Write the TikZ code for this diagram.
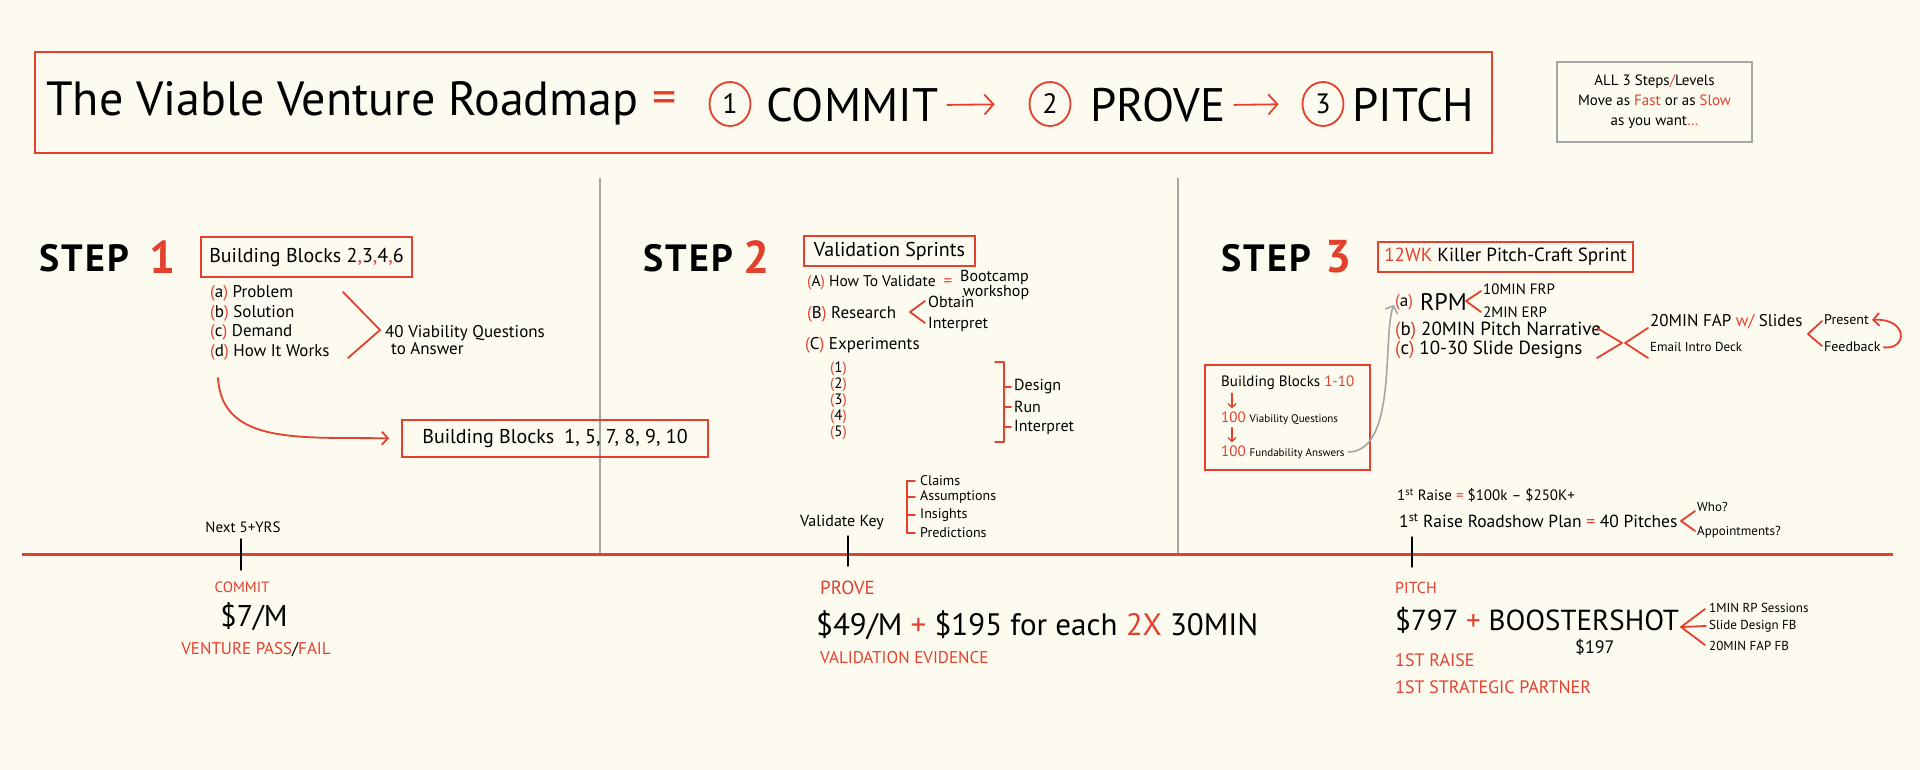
\documentclass[tikz,border=0pt]{standalone}
\usepackage{fontspec}
\setmainfont{PT Sans}
\usetikzlibrary{arrows.meta,shapes.geometric}
\definecolor{bg}{RGB}{253,251,239}
\definecolor{rd}{RGB}{228,64,46}
\definecolor{gr}{RGB}{165,165,165}
\newcommand{\fs}[1]{\fontsize{#1pt}{#1pt}\selectfont}
\newcommand{\fsl}[2]{\fontsize{#1pt}{#2pt}\selectfont}
\newcommand{\rp}[1]{\textcolor{rd}{(}#1\textcolor{rd}{)}}
\newcommand{\rd}[1]{\textcolor{rd}{#1}}
\begin{document}
\begin{tikzpicture}[x=1pt,y=-1pt,
 tx/.style={inner sep=0pt,anchor=west},
 ct/.style={inner sep=0pt},
 redbox/.style={draw=rd,line width=1.8pt,inner sep=0pt},
 stroke/.style={draw=rd,line width=1.8pt,line cap=round,line join=round},
 ink/.style={draw=black,line width=1.5pt,line cap=round},
 sep/.style={draw=gr,line width=2pt},
 barb/.style={-{Straight Barb[length=6pt,width=13pt]}},
 bigbarb/.style={-{Straight Barb[length=9pt,width=20pt]}},
 numc/.style={draw=rd,line width=1.8pt,ellipse,minimum width=41pt,minimum height=44pt,inner sep=0pt,font=\fs{28}},
 steplbl/.style={tx,font=\fs{38}\bfseries\addfontfeatures{LetterSpace=6}},
 stepnum/.style={tx,text=rd,font=\fs{46}\bfseries},
]
\fill[bg] (0,0) rectangle (1920,770);
\useasboundingbox (0,0) rectangle (1920,770);

% ---------- title ----------
\node[redbox,minimum width=1457pt,minimum height=101pt,anchor=north west] (titlebox) at (34,51) {};
\node[tx,font=\fs{48}] (ttl) at (46,103) {The Viable Venture Roadmap};
\node[ct,font=\fs{48},text=rd] (eq) at (665,103) {=};
\node[numc] (c1) at (730,104) {1};
\node[tx,font=\fs{47}] (commit) at (766,105) {COMMIT};
\node[numc] (c2) at (1050,104) {2};
\node[tx,font=\fs{47}] (prove) at (1090,105) {PROVE};
\node[numc] (c3) at (1323,104) {3};
\node[tx,font=\fs{47}] (pitch) at (1352,105) {PITCH};
\draw[stroke,bigbarb,shorten <=9pt,shorten >=34pt] (commit.east) -- (c2.west);
\draw[stroke,bigbarb,shorten <=9pt,shorten >=23pt] (prove.east) -- (c3.west);

\node[draw=gr,line width=1.5pt,minimum width=195pt,minimum height=80pt,align=center,font=\fsl{15}{20},inner sep=0pt] (note) at (1654.5,102)
 {ALL 3 Steps\rd{/}Levels\\Move as \rd{Fast} or as \rd{Slow}\\as you want\rd{\ldots}};

% ---------- separators and timeline ----------
\coordinate (s1a) at (600,178); \coordinate (s1b) at (600,553);
\coordinate (s2a) at (1178,178); \coordinate (s2b) at (1178,553);
\draw[sep] (s1a) -- (s1b);
\draw[sep] (s2a) -- (s2b);
\coordinate (tl0) at (22,554); \coordinate (tl1) at (1893,554);
\draw[draw=rd,line width=3pt] (tl0) -- (tl1);
\draw[ink] (241,539) -- (241,570);
\draw[ink] (848,536) -- (848,566);
\draw[ink] (1412,537) -- (1412,567);

% ---------- step 1 ----------
\node[steplbl] (step1) at (39,258) {STEP};
\node[stepnum] (n1) at (149,257) {1};
\node[redbox,minimum width=211pt,minimum height=40pt,font=\fs{20}] (bb1) at (306.5,257) {Building Blocks 2\rd{,}3\rd{,}4\rd{,}6};
\node[tx,font=\fs{17}] (la) at (210,293) {\rp{a} Problem};
\node[tx,font=\fs{17}] (lb) at (210,313) {\rp{b} Solution};
\node[tx,font=\fs{17}] (lc) at (210,332) {\rp{c} Demand};
\node[tx,font=\fs{17}] (ld) at (210,352) {\rp{d} How It Works};
\draw[stroke] (343,292) -- (380,330) -- (348,358);
\node[tx,font=\fsl{17}{17},align=left] (q40) at (385,340) {40 Viability Questions\\\hspace{6pt}to Answer};
\node[redbox,minimum width=306pt,minimum height=37pt,font=\fs{20}] (bb2) at (555,438.5) {Building Blocks\hspace{10pt}1, 5, 7, 8, 9, 10};
\coordinate (cs) at (218,378);
\draw[stroke,barb,shorten >=12pt] (cs) .. controls (222,445) and (300,437) .. (bb2.west);

% commit
\node[ct,font=\fs{15}] (next) at (243,527) {Next 5+YRS};
\node[ct,font=\fs{15},text=rd] (commitl) at (242,587) {COMMIT};
\node[ct,font=\fs{30}] (p7) at (254,617) {\$7/M};
\node[ct,font=\fs{17},text=rd] (vpf) at (256,650) {VENTURE PASS\textcolor{black}{/}FAIL};

% ---------- step 2 ----------
\node[steplbl] (step2) at (643,258) {STEP};
\node[stepnum] (n2) at (743,257) {2};
\node[redbox,minimum width=171pt,minimum height=30pt,font=\fs{20}] (vs) at (889.5,251) {Validation Sprints};
\node[tx,font=\fs{15.5}] (sa) at (807,283) {\rp{A} How To Validate};
\node[ct,font=\fs{17},text=rd] (saeq) at (948,283) {=};
\node[tx,font=\fs{16}] (boot) at (960,277) {Bootcamp};
\node[tx,font=\fs{16}] (work) at (963,292) {workshop};
\node[tx,font=\fs{17}] (sb) at (807,314) {\rp{B} Research};
\draw[stroke] (925,301) -- (910,312) -- (925,323);
\node[tx,font=\fs{16}] (obt) at (928,302) {Obtain};
\node[tx,font=\fs{16}] (intp) at (928,324) {Interpret};
\node[tx,font=\fs{17}] (sc) at (805,345) {\rp{C} Experiments};
\node[tx,font=\fs{15}] (e1) at (830,369) {\rp{1}};
\node[tx,font=\fs{15}] (e2) at (830,385) {\rp{2}};
\node[tx,font=\fs{15}] (e3) at (830,401) {\rp{3}};
\node[tx,font=\fs{15}] (e4) at (830,417) {\rp{4}};
\node[tx,font=\fs{15}] (e5) at (830,433) {\rp{5}};
\draw[stroke] (995,362) -- (1004,362) -- (1004,442) -- (995,442);
\draw[stroke] (1004,387) -- (1011,387);
\draw[stroke] (1004,407) -- (1011,407);
\draw[stroke] (1004,427) -- (1011,427);
\node[tx,font=\fs{16}] (des) at (1014,387) {Design};
\node[tx,font=\fs{16}] (run) at (1014,407) {Run};
\node[tx,font=\fs{16}] (int2) at (1014,427) {Interpret};

% prove
\node[tx,font=\fs{16}] (vk) at (800,522) {Validate Key};
\draw[stroke] (915,481) -- (907,481) -- (907,533) -- (915,533);
\draw[stroke] (907,497) -- (915,497);
\draw[stroke] (907,515) -- (915,515);
\node[tx,font=\fs{14}] (k1) at (920,481) {Claims};
\node[tx,font=\fs{14}] (k2) at (920,497) {Assumptions};
\node[tx,font=\fs{14}] (k3) at (920,515) {Insights};
\node[tx,font=\fs{14}] (k4) at (920,533) {Predictions};
\node[tx,font=\fs{19},text=rd] (provel) at (820,588) {PROVE};
\node[tx,font=\fs{31}] (p49) at (816,625) {\$49/M \rd{+} \$195 for each \rd{2X} 30MIN};
\node[tx,font=\fs{17},text=rd] (ve) at (820,658) {VALIDATION EVIDENCE};

% ---------- step 3 ----------
\node[steplbl] (step3) at (1221,258) {STEP};
\node[stepnum] (n3) at (1325,257) {3};
\node[redbox,minimum width=255pt,minimum height=30pt,font=\fs{19}] (kp) at (1505.5,257) {\rd{12WK} Killer Pitch-Craft Sprint};
\node[tx,font=\fs{17}] (pa) at (1395,302) {\rp{a}};
\node[tx,font=\fs{24}] (rpm) at (1420,302) {RPM};
\draw[stroke] (1481,291) -- (1466,301) -- (1481,312);
\node[tx,font=\fs{15}] (f10) at (1483,289) {10MIN FRP};
\node[tx,font=\fs{15}] (e2m) at (1483,312) {2MIN ERP};
\node[tx,font=\fs{19}] (pb) at (1395,331) {\rp{b} 20MIN Pitch Narrative};
\node[tx,font=\fs{19}] (pc) at (1395,350) {\rp{c} 10-30 Slide Designs};
\draw[stroke] (1597,328) -- (1622,343) -- (1597,358);
\draw[stroke] (1648,328) -- (1625,343) -- (1648,358);
\node[tx,font=\fs{17}] (fap) at (1650,322) {20MIN FAP \rd{w/} Slides};
\node[tx,font=\fs{13}] (eid) at (1650,347) {Email Intro Deck};
\draw[stroke] (1822,321) -- (1808,334) -- (1822,346);
\node[tx,font=\fs{14}] (pres) at (1824,320) {Present};
\node[tx,font=\fs{14}] (fb) at (1824,347) {Feedback};
\draw[stroke,barb,shorten <=3pt,shorten >=3pt] (fb.east) .. controls (1908,350) and (1908,318) .. (pres.east);

\node[redbox,minimum width=165pt,minimum height=105pt,anchor=north west] (bb3) at (1204,364) {};
\node[tx,font=\fs{15}] (g1) at (1221,383) {Building Blocks \rd{1-10}};
\node[tx,font=\fs{15}] (g2) at (1221,418) {\rd{100} {\fs{11}Viability Questions}};
\node[tx,font=\fs{15}] (g3) at (1221,452) {\rd{100} {\fs{11}Fundability Answers}};
\draw[stroke,line width=1.2pt,-{Straight Barb[length=4pt,width=8pt]},shorten <=3pt,shorten >=3pt] ([xshift=11pt]g1.south west) -- ([xshift=11pt]g2.north west);
\draw[stroke,line width=1.2pt,-{Straight Barb[length=4pt,width=8pt]},shorten <=3pt,shorten >=3pt] ([xshift=11pt]g2.south west) -- ([xshift=11pt]g3.north west);
\draw[draw=gr,line width=1.6pt,barb,shorten <=3pt,shorten >=3pt] (g3.east) .. controls (1398,452) and (1382,335) .. (pa.west);

% pitch
\node[tx,font=\fs{15}] (r1) at (1397,495) {1\textsuperscript{st} Raise \rd{=} \$100k -- \$250K+};
\node[tx,font=\fs{17.5}] (r2) at (1399,521) {1\textsuperscript{st} Raise Roadshow Plan \rd{=} 40 Pitches};
\draw[stroke] (1695,511) -- (1681,521) -- (1695,531);
\node[tx,font=\fs{13}] (who) at (1697,507) {Who?};
\node[tx,font=\fs{13}] (appt) at (1697,532) {Appointments?};
\node[tx,font=\fs{16},text=rd] (pitchl) at (1395,588) {PITCH};
\node[tx,font=\fs{29}] (p797) at (1395,620) {\$797 \rd{+} BOOSTERSHOT};
\node[tx,font=\fs{18}] (p197) at (1575,647) {\$197};
\draw[stroke] (1705,609) -- (1681,627) -- (1705,645);
\draw[stroke] (1681,627) -- (1706,626);
\node[tx,font=\fs{13}] (m1) at (1709,608) {1MIN RP Sessions};
\node[tx,font=\fs{13}] (m2) at (1709,626) {Slide Design FB};
\node[tx,font=\fs{13}] (m3) at (1709,646) {20MIN FAP FB};
\node[tx,font=\fs{18},text=rd] (fr) at (1395,660) {1ST RAISE};
\node[tx,font=\fs{18},text=rd] (fsp) at (1395,687) {1ST STRATEGIC PARTNER};
\end{tikzpicture}
\end{document}
